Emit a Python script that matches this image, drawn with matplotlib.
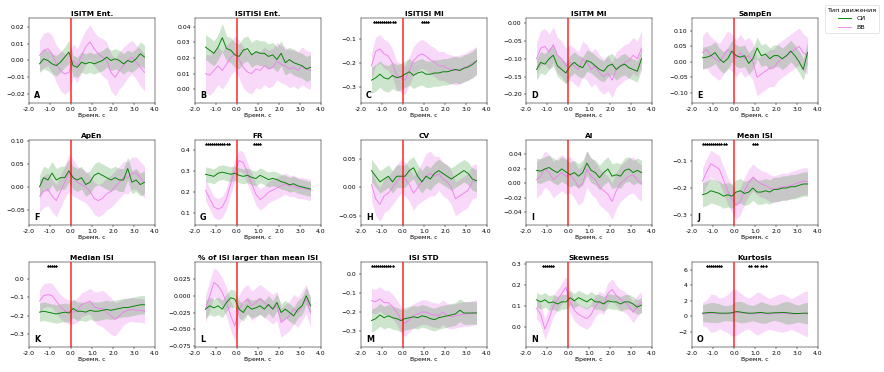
"""
Динамика показателей спайковой активности: СИ vs ВВ, 15 панелей (3x5).
Saves out.png (884x372).
"""
import matplotlib.pyplot as plt
import matplotlib.transforms as mtransforms
import numpy as np
from matplotlib.ticker import FormatStrFormatter

OUTPUT = "out.png"

# time grid, s
TIME = np.round(np.arange(-1.5, 3.51, 0.2), 1)

# ---- A: ISITM Ent.
A_SI = [-0.002, 0.001, 0.000, -0.002, -0.003, -0.001, 0.002, 0.005, -0.003, -0.004, -0.001, -0.002, -0.001,
        -0.002, -0.001, 0.000, 0.002, 0.000, 0.001, 0.000, -0.002, 0.000, -0.001, 0.001, 0.004, 0.002]
A_SI_SD = [0.005, 0.006, 0.006, 0.006, 0.006, 0.006, 0.006, 0.007, 0.006, 0.006, 0.006, 0.006, 0.006,
           0.006, 0.006, 0.006, 0.006, 0.006, 0.006, 0.006, 0.006, 0.006, 0.006, 0.006, 0.007, 0.007]
A_VV = [0.003, 0.006, 0.007, 0.004, -0.002, -0.006, -0.008, -0.007, 0.000, -0.003, 0.003, 0.008, 0.011,
        0.007, 0.004, 0.002, 0.000, -0.007, -0.010, -0.006, -0.003, 0.000, 0.002, -0.001, -0.004, -0.007]
A_VV_SD = [0.009, 0.010, 0.010, 0.011, 0.011, 0.012, 0.012, 0.011, 0.010, 0.010, 0.010, 0.010, 0.010,
           0.010, 0.010, 0.011, 0.011, 0.011, 0.011, 0.011, 0.011, 0.010, 0.010, 0.010, 0.011, 0.011]

# ---- B: ISITISI Ent.
B_SI = [0.027, 0.025, 0.023, 0.027, 0.033, 0.026, 0.025, 0.022, 0.021, 0.025, 0.026, 0.022, 0.024,
        0.023, 0.023, 0.021, 0.022, 0.019, 0.023, 0.017, 0.019, 0.017, 0.016, 0.015, 0.013, 0.014]
B_SI_SD = [0.008, 0.008, 0.008, 0.008, 0.009, 0.008, 0.008, 0.008, 0.008, 0.008, 0.008, 0.008, 0.008,
           0.008, 0.008, 0.008, 0.008, 0.008, 0.008, 0.008, 0.008, 0.008, 0.008, 0.008, 0.008, 0.008]
B_VV = [0.010, 0.009, 0.012, 0.015, 0.012, 0.016, 0.020, 0.023, 0.019, 0.014, 0.011, 0.010, 0.013,
        0.012, 0.015, 0.013, 0.014, 0.018, 0.016, 0.015, 0.013, 0.014, 0.012, 0.015, 0.013, 0.012]
B_VV_SD = [0.012, 0.013, 0.013, 0.012, 0.012, 0.012, 0.011, 0.011, 0.012, 0.013, 0.013, 0.013, 0.012,
           0.012, 0.012, 0.012, 0.012, 0.012, 0.012, 0.012, 0.012, 0.012, 0.012, 0.012, 0.012, 0.012]

# ---- C: ISITISI MI
C_SI = [-0.270, -0.260, -0.245, -0.260, -0.265, -0.250, -0.260, -0.255, -0.245, -0.235, -0.250, -0.240, -0.235,
        -0.245, -0.245, -0.240, -0.240, -0.235, -0.235, -0.230, -0.225, -0.230, -0.220, -0.215, -0.205, -0.190]
C_SI_SD = [0.055, 0.055, 0.055, 0.055, 0.055, 0.055, 0.055, 0.055, 0.055, 0.055, 0.055, 0.055, 0.055,
           0.055, 0.055, 0.055, 0.055, 0.055, 0.055, 0.055, 0.055, 0.055, 0.055, 0.055, 0.055, 0.055]
C_VV = [-0.210, -0.150, -0.140, -0.160, -0.170, -0.200, -0.250, -0.260, -0.270, -0.230, -0.190, -0.170, -0.160,
        -0.170, -0.185, -0.195, -0.210, -0.210, -0.220, -0.225, -0.230, -0.225, -0.220, -0.210, -0.200, -0.190]
C_VV_SD = [0.055, 0.060, 0.060, 0.060, 0.060, 0.060, 0.060, 0.060, 0.060, 0.060, 0.060, 0.060, 0.060,
           0.060, 0.060, 0.060, 0.060, 0.060, 0.060, 0.060, 0.060, 0.060, 0.060, 0.060, 0.060, 0.060]

# ---- D: ISITM MI
D_SI = [-0.130, -0.110, -0.115, -0.100, -0.090, -0.120, -0.130, -0.140, -0.120, -0.110, -0.120, -0.125, -0.105,
        -0.110, -0.120, -0.130, -0.135, -0.120, -0.115, -0.130, -0.120, -0.115, -0.125, -0.130, -0.135, -0.100]
D_SI_SD = [0.030, 0.030, 0.030, 0.030, 0.030, 0.030, 0.030, 0.030, 0.030, 0.030, 0.030, 0.030, 0.030,
           0.030, 0.030, 0.030, 0.030, 0.030, 0.030, 0.030, 0.030, 0.030, 0.030, 0.030, 0.030, 0.030]
D_VV = [-0.100, -0.070, -0.065, -0.080, -0.060, -0.090, -0.100, -0.120, -0.110, -0.120, -0.130, -0.100, -0.110,
        -0.130, -0.120, -0.140, -0.150, -0.140, -0.160, -0.130, -0.120, -0.110, -0.105, -0.090, -0.100, -0.070]
D_VV_SD = [0.045, 0.050, 0.050, 0.050, 0.050, 0.050, 0.050, 0.050, 0.050, 0.050, 0.050, 0.050, 0.050,
           0.050, 0.050, 0.050, 0.050, 0.050, 0.050, 0.050, 0.050, 0.050, 0.050, 0.050, 0.050, 0.050]

# ---- E: SampEn
E_SI = [0.013, 0.015, 0.020, 0.030, 0.010, -0.002, 0.010, 0.035, 0.020, 0.015, 0.020, -0.005, 0.010,
        0.045, 0.020, 0.025, 0.010, 0.020, 0.020, 0.010, 0.020, 0.035, 0.020, 0.000, -0.025, 0.030]
E_SI_SD = [0.035, 0.035, 0.035, 0.035, 0.035, 0.035, 0.035, 0.035, 0.035, 0.035, 0.035, 0.035, 0.035,
           0.035, 0.035, 0.035, 0.035, 0.035, 0.035, 0.035, 0.035, 0.035, 0.035, 0.035, 0.035, 0.035]
E_VV = [0.030, 0.040, 0.020, 0.010, 0.000, 0.020, 0.040, 0.030, 0.010, 0.030, 0.010, 0.020, 0.000,
        -0.050, -0.040, -0.030, -0.020, -0.020, 0.000, 0.010, 0.020, 0.030, 0.040, 0.050, 0.030, 0.020]
E_VV_SD = [0.055, 0.060, 0.060, 0.060, 0.060, 0.060, 0.060, 0.060, 0.060, 0.060, 0.060, 0.060, 0.060,
           0.060, 0.060, 0.060, 0.060, 0.060, 0.060, 0.060, 0.060, 0.060, 0.060, 0.060, 0.060, 0.060]

# ---- F: ApEn
F_SI = [0.000, 0.020, 0.015, 0.030, 0.015, 0.020, 0.020, 0.035, 0.020, 0.015, 0.020, 0.005, 0.010,
        0.025, 0.030, 0.025, 0.020, 0.015, 0.020, 0.015, 0.015, 0.040, 0.010, 0.015, 0.005, 0.010]
F_SI_SD = [0.025, 0.025, 0.025, 0.025, 0.025, 0.025, 0.025, 0.025, 0.025, 0.025, 0.025, 0.025, 0.025,
           0.025, 0.025, 0.025, 0.025, 0.025, 0.025, 0.025, 0.025, 0.025, 0.025, 0.025, 0.025, 0.025]
F_VV = [-0.020, -0.010, -0.005, -0.020, -0.030, -0.010, 0.010, 0.030, 0.020, 0.010, 0.005, 0.000, -0.010,
        -0.025, -0.030, -0.025, -0.015, -0.010, 0.000, 0.010, 0.020, 0.020, 0.030, 0.030, 0.020, 0.010]
F_VV_SD = [0.035, 0.035, 0.035, 0.035, 0.035, 0.035, 0.035, 0.040, 0.040, 0.035, 0.035, 0.035, 0.035,
           0.035, 0.035, 0.035, 0.035, 0.035, 0.035, 0.035, 0.035, 0.035, 0.035, 0.035, 0.035, 0.035]

# ---- G: FR
G_SI = [0.285, 0.280, 0.275, 0.290, 0.295, 0.290, 0.285, 0.290, 0.280, 0.275, 0.280, 0.270, 0.265,
        0.280, 0.270, 0.260, 0.265, 0.260, 0.250, 0.245, 0.235, 0.240, 0.230, 0.225, 0.220, 0.215]
G_SI_SD = [0.035, 0.035, 0.035, 0.035, 0.035, 0.035, 0.035, 0.035, 0.035, 0.035, 0.035, 0.035, 0.035,
           0.035, 0.035, 0.035, 0.035, 0.035, 0.035, 0.035, 0.035, 0.035, 0.035, 0.035, 0.035, 0.035]
G_VV = [0.210, 0.170, 0.130, 0.120, 0.130, 0.170, 0.240, 0.300, 0.350, 0.340, 0.290, 0.240, 0.190,
        0.165, 0.180, 0.200, 0.210, 0.220, 0.230, 0.240, 0.230, 0.230, 0.220, 0.220, 0.215, 0.210]
G_VV_SD = [0.050, 0.050, 0.050, 0.050, 0.050, 0.050, 0.050, 0.050, 0.050, 0.050, 0.050, 0.050, 0.050,
           0.050, 0.050, 0.050, 0.050, 0.050, 0.050, 0.050, 0.050, 0.050, 0.050, 0.050, 0.050, 0.050]

# ---- H: CV
H_SI = [0.030, 0.020, 0.010, 0.015, 0.020, 0.010, 0.020, 0.020, 0.020, 0.030, 0.035, 0.020, 0.010,
        0.020, 0.015, 0.025, 0.030, 0.025, 0.020, 0.015, 0.020, 0.025, 0.030, 0.025, 0.015, 0.012]
H_SI_SD = [0.020, 0.020, 0.020, 0.020, 0.020, 0.020, 0.020, 0.020, 0.020, 0.020, 0.020, 0.020, 0.020,
           0.020, 0.020, 0.020, 0.020, 0.020, 0.020, 0.020, 0.020, 0.020, 0.020, 0.020, 0.020, 0.020]
H_VV = [0.005, -0.020, -0.030, -0.015, -0.010, 0.000, 0.010, 0.020, 0.015, 0.005, -0.010, 0.000, 0.010,
        0.020, 0.025, 0.020, 0.025, 0.015, 0.010, 0.000, -0.020, -0.015, -0.010, -0.005, 0.010, 0.012]
H_VV_SD = [0.030, 0.030, 0.030, 0.030, 0.030, 0.030, 0.030, 0.030, 0.030, 0.030, 0.030, 0.030, 0.035,
           0.040, 0.040, 0.035, 0.030, 0.030, 0.030, 0.030, 0.030, 0.030, 0.030, 0.030, 0.030, 0.030]

# ---- I: AI
I_SI = [0.018, 0.017, 0.020, 0.022, 0.018, 0.015, 0.020, 0.016, 0.012, 0.015, 0.010, 0.015, 0.028,
        0.018, 0.015, 0.008, 0.015, 0.020, 0.010, 0.012, 0.010, 0.018, 0.020, 0.015, 0.018, 0.015]
I_SI_SD = [0.017, 0.017, 0.017, 0.017, 0.017, 0.017, 0.017, 0.017, 0.017, 0.017, 0.017, 0.017, 0.017,
           0.017, 0.017, 0.017, 0.017, 0.017, 0.017, 0.017, 0.017, 0.017, 0.017, 0.017, 0.017, 0.017]
I_VV = [0.005, 0.010, 0.020, 0.015, 0.005, 0.010, 0.015, 0.010, 0.012, 0.005, -0.005, 0.000, 0.020,
        0.010, 0.005, -0.005, -0.010, -0.015, -0.025, -0.010, 0.000, 0.005, 0.010, 0.012, 0.005, 0.000]
I_VV_SD = [0.025, 0.025, 0.025, 0.025, 0.025, 0.025, 0.025, 0.025, 0.025, 0.025, 0.025, 0.025, 0.025,
           0.025, 0.025, 0.025, 0.025, 0.025, 0.025, 0.025, 0.025, 0.025, 0.025, 0.025, 0.025, 0.025]

# ---- J: Mean ISI
J_SI = [-0.225, -0.220, -0.210, -0.215, -0.220, -0.230, -0.225, -0.230, -0.215, -0.210, -0.220, -0.215, -0.200,
        -0.215, -0.215, -0.210, -0.215, -0.205, -0.205, -0.200, -0.200, -0.195, -0.195, -0.190, -0.185, -0.185]
J_SI_SD = [0.045, 0.045, 0.045, 0.045, 0.045, 0.045, 0.045, 0.045, 0.045, 0.045, 0.045, 0.045, 0.045,
           0.045, 0.045, 0.045, 0.045, 0.045, 0.045, 0.045, 0.045, 0.045, 0.045, 0.045, 0.045, 0.045]
J_VV = [-0.175, -0.140, -0.110, -0.120, -0.130, -0.170, -0.210, -0.240, -0.265, -0.250, -0.210, -0.180, -0.160,
        -0.175, -0.185, -0.190, -0.200, -0.205, -0.200, -0.195, -0.195, -0.190, -0.185, -0.180, -0.175, -0.175]
J_VV_SD = [0.050, 0.050, 0.050, 0.050, 0.050, 0.050, 0.050, 0.050, 0.050, 0.050, 0.050, 0.050, 0.050,
           0.050, 0.050, 0.050, 0.050, 0.050, 0.050, 0.050, 0.050, 0.050, 0.050, 0.050, 0.050, 0.050]

# ---- K: Median ISI
K_SI = [-0.180, -0.175, -0.180, -0.185, -0.190, -0.185, -0.180, -0.185, -0.160, -0.175, -0.175, -0.180, -0.170,
        -0.175, -0.175, -0.170, -0.165, -0.170, -0.165, -0.160, -0.155, -0.155, -0.150, -0.145, -0.140, -0.140]
K_SI_SD = [0.050, 0.050, 0.050, 0.050, 0.050, 0.050, 0.050, 0.050, 0.050, 0.050, 0.050, 0.050, 0.050,
           0.050, 0.050, 0.050, 0.050, 0.050, 0.050, 0.050, 0.050, 0.050, 0.050, 0.050, 0.050, 0.050]
K_VV = [-0.120, -0.090, -0.085, -0.090, -0.120, -0.150, -0.170, -0.180, -0.180, -0.170, -0.140, -0.130, -0.120,
        -0.150, -0.160, -0.160, -0.180, -0.200, -0.220, -0.200, -0.180, -0.170, -0.165, -0.170, -0.170, -0.175]
K_VV_SD = [0.060, 0.065, 0.065, 0.065, 0.065, 0.065, 0.065, 0.065, 0.065, 0.065, 0.065, 0.065, 0.070,
           0.080, 0.090, 0.100, 0.100, 0.100, 0.090, 0.080, 0.070, 0.065, 0.065, 0.065, 0.065, 0.065]

# ---- L: % of ISI larger than mean ISI
L_SI = [-0.020, -0.015, -0.018, -0.015, -0.020, -0.010, -0.003, -0.005, -0.020, -0.025, -0.015, -0.020, -0.018,
        -0.015, -0.020, -0.013, -0.020, -0.010, -0.025, -0.020, -0.025, -0.030, -0.020, -0.015, 0.000, -0.015]
L_SI_SD = [0.013, 0.013, 0.013, 0.013, 0.013, 0.013, 0.013, 0.013, 0.013, 0.013, 0.013, 0.013, 0.013,
           0.013, 0.013, 0.013, 0.013, 0.013, 0.013, 0.013, 0.013, 0.013, 0.013, 0.013, 0.013, 0.013]
L_VV = [-0.020, 0.000, 0.020, 0.015, 0.005, -0.010, -0.030, -0.045, -0.020, -0.010, -0.005, -0.015, -0.010,
        -0.005, -0.010, -0.015, -0.020, -0.015, -0.040, -0.035, -0.030, -0.020, -0.025, -0.015, -0.005, -0.025]
L_VV_SD = [0.020, 0.022, 0.022, 0.022, 0.022, 0.022, 0.022, 0.022, 0.022, 0.022, 0.022, 0.022, 0.022,
           0.022, 0.022, 0.022, 0.022, 0.022, 0.022, 0.022, 0.022, 0.022, 0.022, 0.022, 0.022, 0.022]

# ---- M: ISI STD
M_SI = [-0.245, -0.235, -0.215, -0.230, -0.220, -0.230, -0.235, -0.245, -0.235, -0.230, -0.225, -0.230, -0.220,
        -0.225, -0.235, -0.240, -0.230, -0.225, -0.220, -0.215, -0.210, -0.190, -0.205, -0.205, -0.205, -0.205]
M_SI_SD = [0.060, 0.060, 0.060, 0.060, 0.060, 0.060, 0.060, 0.060, 0.060, 0.060, 0.060, 0.060, 0.060,
           0.060, 0.060, 0.060, 0.060, 0.060, 0.060, 0.060, 0.060, 0.060, 0.060, 0.060, 0.060, 0.060]
M_VV = [-0.140, -0.145, -0.130, -0.150, -0.150, -0.170, -0.200, -0.240, -0.260, -0.240, -0.220, -0.210, -0.200,
        -0.200, -0.210, -0.215, -0.220, -0.200, -0.220, -0.225, -0.220, -0.215, -0.210, -0.210, -0.205, -0.200]
M_VV_SD = [0.065, 0.065, 0.065, 0.065, 0.065, 0.065, 0.065, 0.070, 0.070, 0.065, 0.065, 0.065, 0.065,
           0.065, 0.065, 0.065, 0.065, 0.065, 0.065, 0.065, 0.065, 0.065, 0.065, 0.065, 0.065, 0.065]

# ---- N: Skewness
N_SI = [0.130, 0.120, 0.130, 0.115, 0.120, 0.110, 0.120, 0.120, 0.140, 0.125, 0.140, 0.130, 0.120,
        0.135, 0.120, 0.120, 0.110, 0.125, 0.120, 0.120, 0.110, 0.120, 0.120, 0.110, 0.095, 0.105]
N_SI_SD = [0.035, 0.035, 0.035, 0.035, 0.035, 0.035, 0.035, 0.035, 0.035, 0.035, 0.035, 0.035, 0.035,
           0.035, 0.035, 0.035, 0.035, 0.035, 0.035, 0.035, 0.035, 0.035, 0.035, 0.035, 0.035, 0.035]
N_VV = [0.090, 0.060, -0.010, 0.040, 0.100, 0.130, 0.160, 0.190, 0.120, 0.080, 0.060, 0.050, 0.040,
        0.060, 0.100, 0.120, 0.110, 0.160, 0.180, 0.150, 0.130, 0.120, 0.100, 0.070, 0.100, 0.120]
N_VV_SD = [0.050, 0.050, 0.050, 0.050, 0.050, 0.050, 0.050, 0.050, 0.050, 0.050, 0.050, 0.050, 0.050,
           0.050, 0.050, 0.050, 0.050, 0.050, 0.050, 0.050, 0.050, 0.050, 0.050, 0.050, 0.050, 0.050]

# ---- O: Kurtosis
O_SI = [0.40, 0.45, 0.50, 0.45, 0.40, 0.40, 0.40, 0.45, 0.60, 0.55, 0.45, 0.40, 0.40,
        0.45, 0.50, 0.40, 0.40, 0.45, 0.45, 0.50, 0.45, 0.40, 0.35, 0.35, 0.40, 0.40]
O_SI_SD = [1.1, 1.2, 1.3, 1.3, 1.2, 1.0, 1.0, 1.1, 1.3, 1.4, 1.3, 1.1, 1.0,
           1.2, 1.4, 1.3, 1.1, 1.0, 1.1, 1.3, 1.5, 1.4, 1.2, 1.1, 1.3, 1.4]
O_VV = [0.30, 0.35, 0.40, 0.40, 0.35, 0.30, 0.35, 0.40, 0.50, 0.45, 0.40, 0.35, 0.30,
        0.35, 0.40, 0.35, 0.30, 0.35, 0.40, 0.40, 0.35, 0.30, 0.30, 0.35, 0.35, 0.30]
O_VV_SD = [1.5, 1.8, 2.5, 2.4, 2.0, 2.2, 2.5, 3.0, 3.0, 2.6, 2.2, 2.0, 2.4,
           2.8, 2.6, 2.2, 2.0, 2.2, 2.4, 2.5, 2.3, 2.0, 2.2, 2.5, 2.8, 3.0]

# significance marks (time, s)
STARS_C = [-1.4, -1.3, -1.2, -1.1, -1.0, -0.9, -0.8, -0.7, -0.6, -0.5, -0.4, 0.9, 1.0, 1.1, 1.2]
STARS_G = [-1.5, -1.4, -1.3, -1.2, -1.1, -1.0, -0.9, -0.8, -0.7, -0.6, -0.5, -0.4, 0.8, 0.9, 1.0, 1.1]
STARS_J = [-1.5, -1.4, -1.3, -1.2, -1.1, -1.0, -0.9, -0.8, -0.7, -0.6, -0.5, -0.4, 0.9, 1.0, 1.1]
STARS_K = [-1.1, -1.0, -0.9, -0.8, -0.7]
STARS_M = [-1.5, -1.4, -1.3, -1.2, -1.1, -1.0, -0.9, -0.8, -0.7, -0.6, -0.5]
STARS_N = [-1.2, -1.1, -1.0, -0.9, -0.8, -0.7]
STARS_O = [-1.3, -1.2, -1.1, -1.0, -0.9, -0.8, -0.7, -0.6, 0.7, 0.8, 1.0, 1.1, 1.3, 1.4, 1.5]

# (title, letter, SI, SI sd, VV, VV sd, stars, ylim, yticks)
PANELS = [
    ("ISITM Ent.", "A", A_SI, A_SI_SD, A_VV, A_VV_SD, [], (-0.0251, 0.0251), [-0.02, -0.01, 0.0, 0.01, 0.02]),
    ("ISITISI Ent.", "B", B_SI, B_SI_SD, B_VV, B_VV_SD, [], (-0.0088, 0.0456), [0.0, 0.01, 0.02, 0.03, 0.04]),
    ("ISITISI MI", "C", C_SI, C_SI_SD, C_VV, C_VV_SD, STARS_C, (-0.365, -0.011), [-0.3, -0.2, -0.1]),
    ("ISITM MI", "D", D_SI, D_SI_SD, D_VV, D_VV_SD, [], (-0.2245, 0.015), [-0.2, -0.15, -0.1, -0.05, 0.0]),
    ("SampEn", "E", E_SI, E_SI_SD, E_VV, E_VV_SD, [], (-0.1335, 0.142), [-0.1, -0.05, 0.0, 0.05, 0.1]),
    ("ApEn", "F", F_SI, F_SI_SD, F_VV, F_VV_SD, [], (-0.083, 0.102), [-0.05, 0.0, 0.05, 0.1]),
    ("FR", "G", G_SI, G_SI_SD, G_VV, G_VV_SD, STARS_G, (0.045, 0.447), [0.1, 0.2, 0.3, 0.4]),
    ("CV", "H", H_SI, H_SI_SD, H_VV, H_VV_SD, [], (-0.0666, 0.0843), [-0.05, 0.0, 0.05]),
    ("AI", "I", I_SI, I_SI_SD, I_VV, I_VV_SD, [], (-0.0575, 0.06), [-0.04, -0.02, 0.0, 0.02, 0.04]),
    ("Mean ISI", "J", J_SI, J_SI_SD, J_VV, J_VV_SD, STARS_J, (-0.337, -0.022), [-0.3, -0.2, -0.1]),
    ("Median ISI", "K", K_SI, K_SI_SD, K_VV, K_VV_SD, STARS_K, (-0.369, 0.092), [-0.3, -0.2, -0.1, 0.0]),
    ("% of ISI larger than mean ISI", "L", L_SI, L_SI_SD, L_VV, L_VV_SD, [], (-0.0765, 0.0504),
     [-0.075, -0.05, -0.025, 0.0, 0.025]),
    ("ISI STD", "M", M_SI, M_SI_SD, M_VV, M_VV_SD, STARS_M, (-0.385, 0.065), [-0.3, -0.2, -0.1, 0.0]),
    ("Skewness", "N", N_SI, N_SI_SD, N_VV, N_VV_SD, STARS_N, (-0.095, 0.31), [0.0, 0.1, 0.2, 0.3]),
    ("Kurtosis", "O", O_SI, O_SI_SD, O_VV, O_VV_SD, STARS_O, (-4.0, 7.05), [-2, 0, 2, 4, 6]),
]

COLOR_SI = "green"
COLOR_VV = "violet"

# axes layout in pixels (figure 884 x 372)
COL_LEFT = [29, 195, 361, 526, 692]
ROW_TOP = [18, 140, 262]
AX_W, AX_H = 126, 85
FIG_W, FIG_H = 884, 372


def main():
    fig = plt.figure(figsize=(20, 372 / 44.2), dpi=44.2)

    for i, (title, letter, si, si_sd, vv, vv_sd, stars, ylim, yticks) in enumerate(PANELS):
        r, c = divmod(i, 5)
        ax = fig.add_axes([COL_LEFT[c] / FIG_W, 1 - (ROW_TOP[r] + AX_H) / FIG_H, AX_W / FIG_W, AX_H / FIG_H])

        si, si_sd, vv, vv_sd = map(np.asarray, (si, si_sd, vv, vv_sd))
        ax.fill_between(TIME, vv - vv_sd, vv + vv_sd, color=COLOR_VV, alpha=0.3, linewidth=0)
        ax.fill_between(TIME, si - si_sd, si + si_sd, color=COLOR_SI, alpha=0.2, linewidth=0)
        ax.plot(TIME, vv, color=COLOR_VV, lw=1.5, label="ВВ")
        ax.plot(TIME, si, color=COLOR_SI, lw=1.5, label="СИ")
        ax.axvline(0, color="red", lw=3, alpha=0.7, zorder=5)

        if stars:
            trans = mtransforms.blended_transform_factory(ax.transData, ax.transAxes)
            ax.plot(stars, [0.955] * len(stars), ls="none", marker="*", ms=3.5, color="black", transform=trans)

        ax.set_xlim(-2, 4)
        ax.set_xticks([-2, -1, 0, 1, 2, 3, 4])
        ax.xaxis.set_major_formatter(FormatStrFormatter("%.1f"))
        ax.set_ylim(*ylim)
        ax.set_yticks(yticks)
        ax.tick_params(labelsize=10)
        ax.set_xlabel("Время, с", fontsize=10, labelpad=1)
        ax.set_title(title, fontsize=12, fontweight="bold", pad=4)
        ax.text(0.04, 0.03, letter, transform=ax.transAxes, fontsize=13, fontweight="bold", va="bottom")

    handles = [plt.Line2D([], [], color=COLOR_SI, lw=1.5), plt.Line2D([], [], color=COLOR_VV, lw=1.5)]
    fig.legend(handles, ["СИ", "ВВ"], title="Тип движения", loc="upper right",
               bbox_to_anchor=(0.998, 0.995), fontsize=10.5, title_fontsize=10.5)

    fig.savefig(OUTPUT, dpi=44.2)
    print(f"Saved: {OUTPUT}")


if __name__ == "__main__":
    main()
